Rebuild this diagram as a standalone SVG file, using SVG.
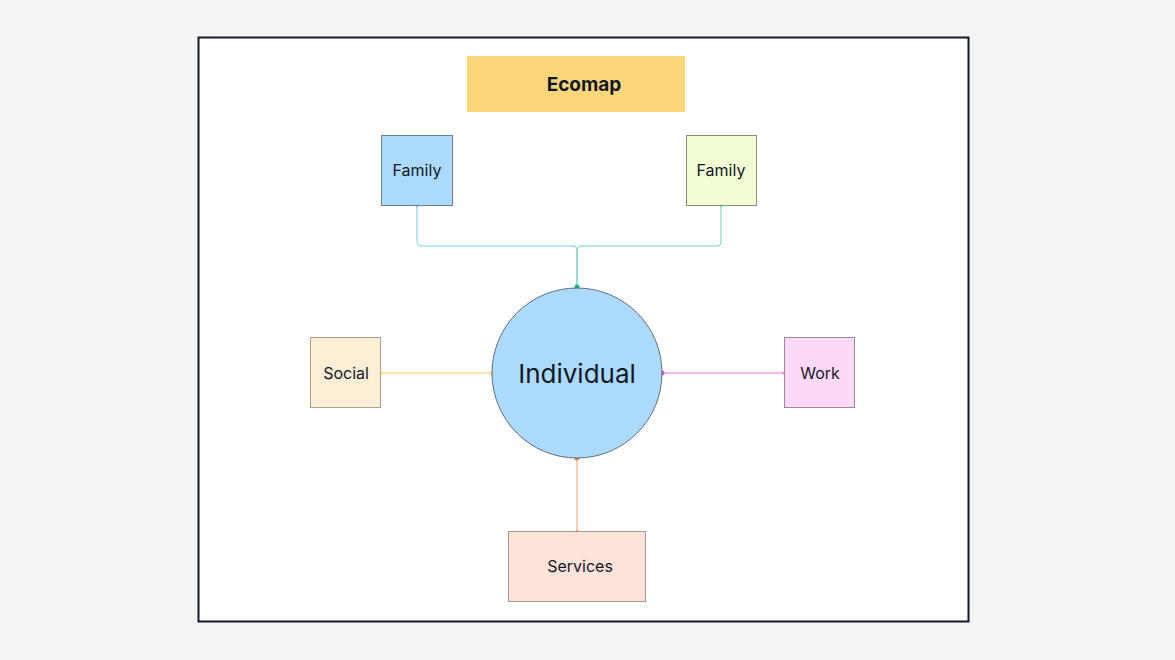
<svg xmlns="http://www.w3.org/2000/svg" width="1175" height="660" viewBox="0 0 1175 660">
<style>
text{font-family:Inter,"Liberation Sans",sans-serif;fill:#111827;text-anchor:middle;dominant-baseline:central}
.n{stroke-width:1}
.c{fill:none;stroke-width:1}
</style>
<rect x="0" y="0" width="1175" height="660" fill="#f4f4f4"/>
<rect x="198.5" y="37.5" width="770" height="584" fill="#fff" stroke="#111827" stroke-width="2"/>
<g id="title"><rect x="467" y="56" width="218" height="56" fill="#fcd67a"/><text x="584" y="84" font-size="19" font-weight="bold">Ecomap</text></g>
<g id="connectors">
<path class="c" stroke="#7dcdf0" d="M577 287V250q0-4-4-4H421q-4 0-4-4V206"/>
<path class="c" stroke="#6fd6b4" d="M577 287V250q0-4 4-4H717q4 0 4-4V206"/>
<path class="c" stroke="#fcd34d" d="M493 373H381"/>
<path class="c" stroke="#f472d8" d="M662 373H784"/>
<path class="c" stroke="#f59e6b" d="M577 458V531"/>
<circle cx="577" cy="287" r="2.5" fill="#10b981"/>
<circle cx="493" cy="373" r="2.5" fill="#fcc83a"/>
<circle cx="662" cy="373" r="2.5" fill="#e64ad0"/>
<circle cx="577" cy="458" r="2.5" fill="#f07a3a"/>
<circle cx="417" cy="206" r="1.5" fill="#7dcdf0"/>
<circle cx="721" cy="206" r="1.5" fill="#6fd6b4"/>
<circle cx="381" cy="373" r="1.5" fill="#fcd34d"/>
<circle cx="784" cy="373" r="1.5" fill="#f472d8"/>
<circle cx="577" cy="531" r="1.5" fill="#f59e6b"/>
</g>
<g id="individual"><circle cx="577" cy="373" r="85" fill="#acdafc" stroke="#5f6b7a"/><text x="577" y="373" font-size="26">Individual</text></g>
<g id="family1"><rect x="381.5" y="135.5" width="71" height="70" fill="#acdafc" stroke="#6b7c8f"/><text x="417" y="170" font-size="16">Family</text></g>
<g id="family2"><rect x="686.5" y="135.5" width="70" height="70" fill="#f2fdd4" stroke="#8a8f78"/><text x="721" y="170" font-size="16">Family</text></g>
<g id="social"><rect x="310.5" y="337.5" width="70" height="70" fill="#fdeed6" stroke="#a8a090"/><text x="346" y="373" font-size="16">Social</text></g>
<g id="work"><rect x="784.5" y="337.5" width="70" height="70" fill="#fdd8f8" stroke="#9a8a98"/><text x="820" y="373" font-size="16">Work</text></g>
<g id="services"><rect x="508.5" y="531.5" width="137" height="70" fill="#fde3d8" stroke="#a8968e"/><text x="580" y="566" font-size="16">Services</text></g>
</svg>
